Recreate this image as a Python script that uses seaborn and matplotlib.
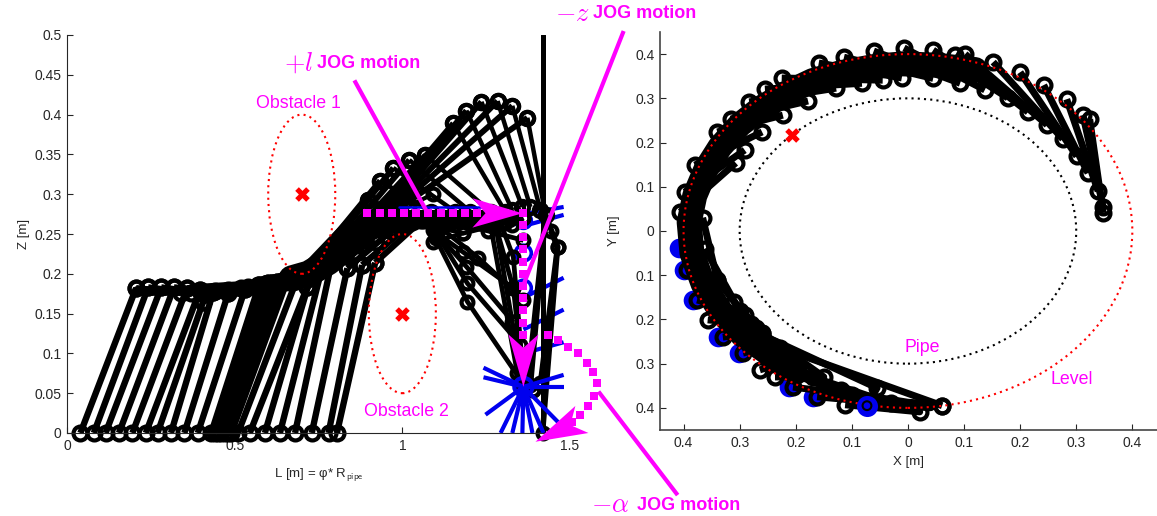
import numpy as np
import pandas as pd
import seaborn as sns
import matplotlib.pyplot as plt
from matplotlib.patches import Ellipse

# ---- left panel, L-Z plane, link joints per frame
low_base_L = [.04,.08,.115,.155,.195,.235,.27,.31,.35,.39,.43,.44,.45,.46,.47,.48,.49,.51,.545,.59,.635,.68,.73,.78,.805]
low_elbow_L = [.206,.242,.281,.319,.358,.397,.406,.436,.481,.531,.573,.590,.600,.612,.625,.640,.657,.69,.716,.731,.764,.794,.836,.880,.919]
low_elbow_z = [.182,.183,.183,.183,.182,.180,.165,.177,.176,.181,.186,.187,.188,.188,.190,.191,.192,.198,.183,.202,.213,.224,.207,.211,.214]
low_tip_L = [.34,.37,.40,.44,.48,.52,.54,.57,.61,.65,.68,.70,.72,.74,.76,.78,.80,.83,.86,.88,.92,.96,.99,1.03,1.06]
low_tip_z = [.176,.176,.176,.178,.180,.182,.184,.186,.188,.190,.195,.198,.200,.205,.208,.212,.216,.222,.228,.235,.24,.255,.262,.265,.268]

up_q_L = [.666,.696,.725,.755,.785,.830,.860,.875,.890,.904,.919]
up_q_z = [.190,.195,.202,.211,.220,.230,.236,.242,.249,.255,.261]
up_elbow_L = [.899,.934,.973,1.021,1.069,1.152,1.191,1.236,1.284,1.328,1.373]
up_elbow_z = [.293,.317,.333,.343,.349,.389,.405,.416,.417,.411,.396]
up_tip_L = [.994,1.084,1.158,1.203,1.263,1.307,1.328,1.358,1.382,1.412,1.427]
up_tip_z = [.278,.278,.278,.278,.278,.278,.280,.284,.284,.280,.274]

down_q_L = [1.090,1.128,1.090,1.113,1.099,1.104,1.099,1.307,1.293,1.278,1.278,1.263]
down_q_z = [.260,.265,.255,.258,.253,.249,.245,.264,.264,.261,.261,.261]
down_elbow_L = [1.182,1.254,1.182,1.227,1.191,1.194,1.194,1.328,1.331,1.331,1.328,1.343]
down_elbow_z = [.251,.254,.227,.220,.209,.188,.165,.261,.221,.182,.139,.075]
down_tip_L = [1.361,1.361,1.331,1.361,1.331,1.352,1.352,1.361,1.361,1.361,1.361,1.361]
down_tip_z = [.270,.242,.182,.167,.139,.111,.067,.270,.070,.067,.060,.058]

side_L0 = [1.418,1.442,1.391,1.427,1.427]
side_z0 = [0,.254,.054,.274,.274]
side_L1 = [1.463,1.463,1.361,1.373,1.382]
side_z1 = [.234,.234,.058,.060,.060]
side_L2 = [1.427,1.412,1.391,1.361,1.361]
side_z2 = [.274,.063,.054,.058,.058]

strip_a_L = [.21,.40]
strip_a_z = [.178,.178]
strip_b_L = [.40,.55,.68]
strip_b_z = [.178,.182,.190]
band_a_L = [.67,.72,.78,.90]
band_a_z = [.194,.200,.215,.258]
band_b_L = [.90,1.0,1.15,1.25]
band_b_z = [.262,.268,.268,.268]
extra_L0 = [.95,1.02,1.09]
extra_z0 = [.255,.285,.24]
extra_L1 = [1.021,1.09,1.182]
extra_z1 = [.285,.30,.251]

wall_L = [1.418,1.418]
wall_z = [0,.5]

blue_fan_L = [1.242,1.242,1.248,1.293,1.328,1.358,1.388,1.421,1.466,1.481,1.481]
blue_fan_z = [.082,.070,.023,0,0,0,0,0,.013,.073,.058]
blue_side_z0 = [.275,.26,.17,.13,.10]
blue_side_L1 = [1.481,1.481,1.481,1.481,1.481]
blue_side_z1 = [.284,.274,.195,.155,.114]
blue_row_L = [.99,1.24]
blue_row_z = [.284,.284]
blue_ring_L = [1.361,1.361,1.361]
blue_ring_z = [.267,.226,.182]

obst_L = [.70,1.0]
obst_z = [.30,.15]

# jog paths and arrowheads
jog_l_L = [.896,.932,.968,1.005,1.041,1.078,1.114,1.151,1.187,1.224]
jog_l_z = [.276]*10
jog_z_L = [1.361]*11
jog_z_z = [.276,.261,.246,.231,.215,.200,.185,.170,.155,.138,.123]
jog_a_L = [1.433,1.463,1.493,1.525,1.552,1.570,1.582,1.573,1.555,1.531,1.507]
jog_a_z = [.123,.117,.108,.101,.088,.077,.063,.046,.034,.023,.014]
head_l_L, head_l_z = [1.358,1.209,1.248,1.209], [.276,.295,.276,.258]
head_z_L, head_z_z = [1.361,1.316,1.361,1.406], [.058,.124,.107,.124]
head_a_L, head_a_z = [1.397,1.516,1.501,1.555], [-.011,.034,.010,0]
lead_l_L, lead_l_z = [.857,1.072], [.443,.279]
lead_z_L, lead_z_z = [1.660,1.361], [.505,.186]
lead_a_L, lead_a_z = [1.585,1.821], [.052,-.078]

# ---- right panel, X-Y plane
top_in_x = [.348,.348,.339,.321,.301,.276,.248,.214,.178,.137,.093,.045,-.011,-.045,-.082,-.128,-.178,-.223,-.260,-.291,-.307]
top_in_y = [.041,.054,.090,.131,.169,.208,.240,.269,.301,.319,.334,.345,.346,.341,.334,.323,.294,.262,.224,.183,.154]
top_out_x = [.324,.312,.283,.242,.200,.152,.102,.084,.045,-.007,-.061,-.114,-.159,-.225,-.255,-.283,-.316,-.340,-.380,-.398,-.406]
top_out_y = [.253,.262,.298,.330,.359,.382,.400,.398,.409,.414,.407,.393,.380,.346,.321,.292,.253,.224,.149,.088,.043]

ring_x = [.12,.05,-.01,-.06,-.12,-.17,-.22,-.26,-.30,-.335,-.36,-.38,-.39,-.385,-.365,-.335,-.295,-.25,-.20]
ring_y = [.365,.375,.378,.372,.358,.34,.31,.28,.24,.19,.14,.08,.02,-.05,-.12,-.18,-.235,-.275,-.32]
tail_x = [-.21,-.10,-.0,.04]
tail_y = [-.315,-.372,-.392,-.395]

low_a_x = [-.366,-.362,-.34,-.31,-.29,-.27,-.26,-.26,-.228,-.20,-.17,-.12]
low_a_y = [.03,-.04,-.11,-.16,-.19,-.22,-.23,-.235,-.264,-.31,-.33,-.36]
low_b_x = [-.34,-.30,-.28,-.26,-.24,-.20,-.15,-.055,.061,-.10,-.03,.021]
low_b_y = [-.11,-.18,-.21,-.23,-.26,-.29,-.33,-.355,-.395,-.37,-.39,-.409]
low_c_x = [-.394,-.376,-.357,-.330,-.294,-.264,-.237,-.073,.061,-.205,-.162,-.112]
low_c_y = [-.088,-.156,-.201,-.240,-.276,-.314,-.330,-.395,-.395,-.353,-.375,-.393]

blue_dot_x = [-.408,-.400,-.383,-.338,-.302,-.212,-.170]
blue_dot_y = [-.038,-.088,-.156,-.240,-.276,-.353,-.375]
end_x, end_y = [-.073], [-.395]
obst_x, obst_y = [-.207], [.217]

# shapes: centre + diameters
pipe_d = .6
level_d = .8
obst_d = .2


def frames(*cols):
    # cols = x0, y0, x1, y1, ... all same length -> long table, one unit per frame
    rows = []
    for k in range(0, len(cols), 2):
        for i, (a, b) in enumerate(zip(cols[k], cols[k + 1])):
            rows.append((i, k, a, b))
    return pd.DataFrame(rows, columns=['frame', 'joint', 'x', 'y']).sort_values(['frame', 'joint'])


def arm(ax, df, lw, ring=True, color='black', size=10):
    kw = dict(marker='o', markersize=size, fillstyle='none', markeredgecolor=color, markeredgewidth=3) if ring else {}
    sns.lineplot(data=df, x='x', y='y', units='frame', estimator=None, sort=False, color=color,
                 linewidth=lw, clip_on=False, legend=False, ax=ax, solid_capstyle='butt', **kw)


def thick(ax, xs, ys, lw, color='black'):
    sns.lineplot(data=pd.DataFrame({'x': xs, 'y': ys}), x='x', y='y', color=color, linewidth=lw,
                 estimator=None, sort=False, ax=ax, solid_capstyle='round')


sns.set_style('ticks')
plt.rcParams['font.family'] = ['Liberation Sans', 'DejaVu Sans']
plt.rcParams['mathtext.fontset'] = 'cm'
MAG = '#ff00ff'
BLUE = '#0000ee'
DOT = (0, (1, 2))

W, H = 1157, 516
fig = plt.figure(figsize=(W / 100, H / 100), dpi=100)
ax = fig.add_axes([67 / W, 83 / H, 503 / W, 398 / H])
ax2 = fig.add_axes([660 / W, 86 / H, 497 / W, 398 / H])

# ---------- left
arm(ax, frames([1.361] * 5, blue_side_z0, blue_side_L1, blue_side_z1), 3, ring=False, color=BLUE)
thick(ax, wall_L, wall_z, 3.6)

arm(ax, frames(low_base_L, [0] * 25, low_elbow_L, low_elbow_z), 4.6)
arm(ax, frames(low_elbow_L, low_elbow_z, low_tip_L, low_tip_z), 4.5)
thick(ax, strip_a_L, strip_a_z, 7)
thick(ax, strip_b_L, strip_b_z, 11)
thick(ax, band_a_L, band_a_z, 19)
thick(ax, band_b_L, band_b_z, 14)
arm(ax, frames(up_q_L, up_q_z, up_elbow_L, up_elbow_z), 4.2, size=9.5)
arm(ax, frames(up_elbow_L, up_elbow_z, up_tip_L, up_tip_z), 3.2, size=9.5)
arm(ax, frames(extra_L0, extra_z0, extra_L1, extra_z1), 3, size=8.5)
arm(ax, frames(down_q_L, down_q_z, down_elbow_L, down_elbow_z, down_tip_L, down_tip_z), 3.4, size=8.5)
arm(ax, frames(side_L0, side_z0, side_L1, side_z1, side_L2, side_z2), 4, size=8.5)

arm(ax, frames([1.361] * 11, [.058] * 11, blue_fan_L, blue_fan_z), 3, ring=False, color=BLUE)
thick(ax, blue_row_L, blue_row_z, 1.8, BLUE)
sns.scatterplot(x=blue_ring_L, y=blue_ring_z, s=130, marker='o', facecolor='none', edgecolor=BLUE, linewidth=2.6, ax=ax)
sns.scatterplot(x=[1.361], y=[.058], s=170, marker='o', facecolor='none', edgecolor=BLUE, linewidth=3, zorder=6, ax=ax, clip_on=False)

for cx, cz in zip(obst_L, obst_z):
    ax.add_patch(Ellipse((cx, cz), obst_d, obst_d, fill=False, edgecolor='red', linewidth=1.5, linestyle=DOT, zorder=7))
sns.scatterplot(x=obst_L, y=obst_z, marker='X', s=110, color='red', linewidth=0, zorder=8, ax=ax)

for lx, lz in [(lead_l_L, lead_l_z), (lead_z_L, lead_z_z), (lead_a_L, lead_a_z)]:
    ax.plot(lx, lz, color=MAG, lw=3, clip_on=False, zorder=9, solid_capstyle='butt')
for hx, hz in [(head_l_L, head_l_z), (head_z_L, head_z_z), (head_a_L, head_a_z)]:
    ax.fill(hx, hz, color=MAG, lw=0, clip_on=False, zorder=10)
for jx, jz in [(jog_l_L, jog_l_z), (jog_z_L, jog_z_z), (jog_a_L, jog_a_z)]:
    sns.scatterplot(x=jx, y=jz, marker='s', s=26, color=MAG, linewidth=0, zorder=11, ax=ax, clip_on=False)

ax.set_xlim(0, 1.5)
ax.set_ylim(0, .5)
ax.set_xticks([0, .5, 1, 1.5], ['0', '0.5', '1', '1.5'])
ax.set_yticks(np.arange(0, .51, .05), ['0', '0.05', '0.1', '0.15', '0.2', '0.25', '0.3', '0.35', '0.4', '0.45', '0.5'])
ax.set_xlabel('L [m] = φ* R$_{\\mathsf{pipe}}$', fontsize=9.5, labelpad=10)
ax.set_ylabel('Z [m]', fontsize=9.5, labelpad=3)

# ---------- right
ax2.add_patch(Ellipse((0, 0), pipe_d, pipe_d, fill=False, edgecolor='black', linewidth=1.5, linestyle=DOT))
sns.scatterplot(x=blue_dot_x, y=blue_dot_y, s=200, color=BLUE, linewidth=0, ax=ax2)
arm(ax2, frames(top_in_x, top_in_y, top_out_x, top_out_y), 5)
arm(ax2, frames(low_a_x, low_a_y, low_b_x, low_b_y, low_c_x, low_c_y), 5)
thick(ax2, ring_x, ring_y, 18)
thick(ax2, tail_x, tail_y, 8)
ax2.add_patch(Ellipse((0, 0), level_d, level_d, fill=False, edgecolor='red', linewidth=1.5, linestyle=DOT, zorder=7))
sns.scatterplot(x=end_x, y=end_y, s=230, color=BLUE, linewidth=0, zorder=8, ax=ax2)
sns.scatterplot(x=end_x, y=end_y, s=40, facecolor='none', edgecolor='black', linewidth=1.5, zorder=9, ax=ax2)
sns.scatterplot(x=obst_x, y=obst_y, marker='X', s=110, color='red', linewidth=0, zorder=8, ax=ax2)
ax2.set_xlim(-.442, .444)
ax2.set_ylim(-.45, .45)
ticks = [-.4, -.3, -.2, -.1, 0, .1, .2, .3, .4]
labs = ['0.4', '0.3', '0.2', '0.1', '0', '0.1', '0.2', '0.3', '0.4']
ax2.set_xticks(ticks, labs)
ax2.set_yticks(ticks, labs)
ax2.set_xlabel('X [m]', fontsize=9.5, labelpad=5)
ax2.set_ylabel('Y [m]', fontsize=9.5, labelpad=11)

for a in (ax, ax2):
    a.spines[['top', 'right']].set_visible(False)
    a.tick_params(direction='in', length=4, width=.8, labelsize=10, pad=4)
    a.set_zorder(2)
    a.patch.set_alpha(0)
for s in ('left', 'bottom'):
    ax2.spines[s].set_color('#444444')
    ax2.spines[s].set_linewidth(1.2)


def label(x, y, s, **kw):
    fig.text(x / W, 1 - y / H, s, color=MAG, va='center', **kw)


label(256, 103, 'Obstacle 1', fontsize=12.8)
label(364, 412, 'Obstacle 2', fontsize=12.8)
label(905, 347, 'Pipe', fontsize=12.8)
label(1050, 380, 'Level', fontsize=12.8)
label(284, 63, '$+l$', fontsize=19)
label(317, 63, 'JOG motion', fontsize=13, fontweight='bold')
label(555, 14, '$-z$', fontsize=19)
label(593, 14, 'JOG motion', fontsize=13, fontweight='bold')
label(591, 505, '$-\\alpha$', fontsize=19)
label(637, 505, 'JOG motion', fontsize=13, fontweight='bold')

fig.savefig('out.png', dpi=100)
